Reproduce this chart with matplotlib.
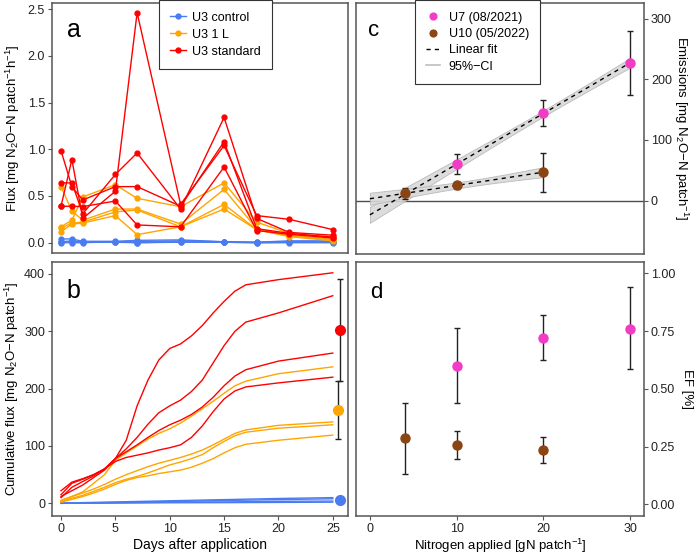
import numpy as np
import matplotlib.pyplot as plt

plt.rcParams['font.family'] = ['Liberation Sans', 'DejaVu Sans']
plt.rcParams['mathtext.fontset'] = 'custom'
plt.rcParams['mathtext.rm'] = 'Liberation Sans'
plt.rcParams['mathtext.it'] = 'Liberation Sans:italic'

# ---- data ----
days = [0, 1, 2, 5, 7, 11, 15, 18, 21, 25]

flux_control = [
    [0.04, 0.04, 0.015, 0.015, 0.025, 0.03, 0.01, 0.005, 0.02, 0.02],
    [0.01, 0.02, 0.01, 0.01, 0.01, 0.02, 0.01, 0.005, 0.01, 0.01],
    [0.005, 0.005, 0.005, 0.005, 0.0, 0.01, 0.005, 0.0, 0.005, 0.005],
    [0.0, 0.0, 0.0, 0.01, 0.0, 0.005, 0.005, 0.0, 0.0, 0.0],
]
flux_1L = [
    [0.17, 0.24, 0.49, 0.62, 0.475, 0.385, 0.64, 0.22, 0.10, 0.05],
    [0.60, 0.34, 0.24, 0.36, 0.36, 0.20, 0.57, 0.15, 0.08, 0.035],
    [0.155, 0.21, 0.22, 0.33, 0.35, 0.17, 0.41, 0.14, 0.07, 0.03],
    [0.115, 0.20, 0.21, 0.29, 0.086, 0.17, 0.36, 0.14, 0.065, 0.02],
]
flux_std = [
    [0.39, 0.89, 0.26, 0.55, 2.46, 0.41, 1.04, 0.29, 0.25, 0.14],
    [0.64, 0.64, 0.31, 0.73, 0.96, 0.36, 1.34, 0.26, 0.11, 0.08],
    [0.985, 0.60, 0.457, 0.60, 0.60, 0.39, 1.08, 0.15, 0.10, 0.06],
    [0.39, 0.39, 0.386, 0.446, 0.19, 0.17, 0.81, 0.13, 0.09, 0.05],
]

cum_days = [0, 1, 2, 3, 4, 5, 6, 7, 8, 9, 10, 11, 12, 13, 14, 15, 16, 17, 20, 25]
cum_std = [
    [15, 35, 42, 50, 60, 78, 110, 170, 215, 250, 270, 278, 292, 310, 332, 352, 370, 381, 390, 402],
    [10, 28, 38, 48, 60, 78, 95, 115, 138, 158, 170, 180, 195, 215, 245, 275, 300, 316, 332, 362],
    [12, 22, 32, 45, 58, 78, 90, 102, 115, 127, 137, 145, 155, 168, 185, 205, 222, 233, 248, 262],
    [22, 37, 43, 50, 60, 73, 80, 84, 88, 93, 97, 102, 115, 135, 160, 182, 196, 203, 210, 220],
]
cum_1L = [
    [5, 12, 20, 35, 50, 75, 88, 100, 112, 122, 130, 140, 152, 165, 178, 192, 205, 213, 226, 238],
    [5, 12, 18, 25, 33, 42, 50, 57, 64, 70, 75, 80, 86, 93, 102, 112, 122, 128, 136, 142],
    [3, 9, 14, 21, 28, 36, 42, 47, 53, 60, 67, 72, 78, 85, 97, 108, 118, 124, 131, 137],
    [2, 7, 12, 18, 25, 33, 40, 45, 48, 52, 55, 58, 63, 70, 78, 88, 97, 103, 110, 119],
]
cum_ctrl_days = [0, 5, 10, 15, 20, 25]
cum_control = [
    [0.5, 2.5, 4.5, 6.5, 8.5, 10],
    [0, 1.5, 3, 5, 6.5, 8],
    [0, 1, 2, 2.5, 3.5, 4],
    [0, 0.5, 1, 1.2, 1.6, 2],
]
# totals (mean, lower, upper) at the right side of panel b: standard, 1 L, control
tot_x = [25.65, 25.5, 25.65]
tot_mean = [302, 163, 6]
tot_low = [213, 112, 3]
tot_high = [391, 213, 9]

# panels c and d
u7_n = [10, 20, 30]
u7_emis = [60, 144, 227]
u7_emis_lo = [44, 123, 174]
u7_emis_hi = [77, 166, 280]
u7_ef = [0.60, 0.72, 0.76]
u7_ef_lo = [0.44, 0.625, 0.586]
u7_ef_hi = [0.764, 0.82, 0.94]

u10_n = [4, 10, 20]
u10_emis = [12, 25, 47]
u10_emis_lo = [2, 20, 15]
u10_emis_hi = [21, 30, 78]
u10_ef = [0.287, 0.256, 0.236]
u10_ef_lo = [0.13, 0.195, 0.18]
u10_ef_hi = [0.44, 0.318, 0.294]

c_blue = '#4A7BF0'
c_orange = '#FFA500'
c_red = '#FF0000'
c_pink = '#F23CC6'
c_brown = '#8B4513'
border = '#555555'

fig = plt.figure(figsize=(6.96, 5.56), dpi=100)
ax_a = fig.add_axes([0.0747, 0.545, 0.4253, 0.45])
ax_b = fig.add_axes([0.0747, 0.072, 0.4253, 0.457])
ax_c = fig.add_axes([0.5115, 0.543, 0.4138, 0.452])
ax_d = fig.add_axes([0.5115, 0.072, 0.4138, 0.457])

for ax in (ax_a, ax_b, ax_c, ax_d):
    for s in ax.spines.values():
        s.set_color(border)
        s.set_linewidth(1.1)
    ax.tick_params(colors='#333333', labelcolor='#222222', labelsize=9,
                   length=3, width=0.8, color=border, pad=2)

# ---- a ----
for grp, col, lab in ((flux_control, c_blue, 'U3 control'),
                      (flux_1L, c_orange, 'U3 1 L'),
                      (flux_std, c_red, 'U3 standard')):
    for i, ser in enumerate(grp):
        ax_a.plot(days, ser, '-o', color=col, lw=1, ms=3.5,
                  label=lab if i == 0 else None)
ax_a.set_xlim(-0.83, 26.4)
ax_a.set_ylim(-0.11, 2.567)
ax_a.set_yticks([0, 0.5, 1.0, 1.5, 2.0, 2.5])
ax_a.set_yticklabels(['0.0', '0.5', '1.0', '1.5', '2.0', '2.5'])
ax_a.set_xticks([])
ax_a.set_ylabel('Flux [mg N$_2$O\u2212N patch$^{-1}$h$^{-1}$]', fontsize=9.5, labelpad=4)
ax_a.text(0.05, 0.864, 'a', transform=ax_a.transAxes, fontsize=18)
leg = ax_a.legend(loc='upper left', bbox_to_anchor=(0.36, 1.01), fontsize=9,
                  fancybox=False, edgecolor='#333333', framealpha=1,
                  handlelength=1.3, handletextpad=0.5, borderpad=0.9,
                  labelspacing=0.4, borderaxespad=0)
leg.get_frame().set_linewidth(0.8)

# ---- b ----
for grp, col in ((cum_control, c_blue), (cum_1L, c_orange), (cum_std, c_red)):
    xs = cum_ctrl_days if grp is cum_control else cum_days
    for ser in grp:
        ax_b.plot(xs, ser, '-', color=col, lw=1)
for x, m, lo, hi, col in zip(tot_x, tot_mean, tot_low, tot_high,
                             (c_red, c_orange, c_blue)):
    ax_b.errorbar(x, m, yerr=[[m - lo], [hi - m]], fmt='none', ecolor='#222222',
                  elinewidth=1, capsize=2.5, capthick=1, zorder=3)
    ax_b.plot(x, m, 'o', color=col, ms=7, zorder=4)
ax_b.set_xlim(-0.83, 26.4)
ax_b.set_ylim(-22, 421)
ax_b.set_xticks([0, 5, 10, 15, 20, 25])
ax_b.set_yticks([0, 100, 200, 300, 400])
ax_b.set_xlabel('Days after application', fontsize=10, labelpad=2)
ax_b.set_ylabel('Cumulative flux [mg N$_2$O\u2212N patch$^{-1}$]', fontsize=9.5, labelpad=2)
ax_b.text(0.05, 0.857, 'b', transform=ax_b.transAxes, fontsize=18)


# ---- c ----
def fit_band(xn, yv, x_end, hw0):
    xn = np.asarray(xn, float)
    k, d = np.polyfit(xn, yv, 1)
    xx = np.linspace(0, x_end, 100)
    sxx = np.sum((xn - xn.mean()) ** 2)
    half = hw0 * np.sqrt(1 + len(xn) * (xx - xn.mean()) ** 2 / sxx)
    return xx, k * xx + d, half


ax_c.axhline(0, color='#4D4D4D', lw=1, zorder=1)
for xn, yv, xe in ((u7_n, u7_emis, 30), (u10_n, u10_emis, 20)):
    xx, yy, half = fit_band(xn, yv, xe, 5.0)
    ax_c.fill_between(xx, yy - half, yy + half, color='#D9D9D9', alpha=0.9,
                      edgecolor='#B5B5B5', lw=0.6, zorder=2)
    ax_c.plot(xx, yy, '--', color='black', lw=1, dashes=(3, 3), zorder=3)
ax_c.plot([], [], color='#BEBEBE', lw=1.2, label='95%\u2212CI')
for xn, yv, lo, hi, col, lab in ((u7_n, u7_emis, u7_emis_lo, u7_emis_hi, c_pink, 'U7 (08/2021)'),
                                 (u10_n, u10_emis, u10_emis_lo, u10_emis_hi, c_brown, 'U10 (05/2022)')):
    yv = np.asarray(yv)
    ax_c.errorbar(xn, yv, yerr=[yv - lo, np.asarray(hi) - yv], fmt='none',
                  ecolor='#222222', elinewidth=1, capsize=2, capthick=1, zorder=4)
    ax_c.plot(xn, yv, 'o', color=col, ms=6.5, zorder=5, label=lab)
ax_c.set_xlim(-1.6, 31.6)
ax_c.set_ylim(-88, 326)
ax_c.set_xticks([])
ax_c.set_yticks([0, 100, 200, 300])
ax_c.yaxis.tick_right()
ax_c.yaxis.set_label_position('right')
ax_c.set_ylabel('Emissions [mg N$_2$O\u2212N patch$^{-1}$]', fontsize=9.5,
                rotation=270, labelpad=13)
ax_c.text(0.042, 0.866, 'c', transform=ax_c.transAxes, fontsize=16)
h, l = ax_c.get_legend_handles_labels()
h_fit = plt.Line2D([], [], color='black', ls='--', lw=1, dashes=(3, 3))
handles = [h[1], h[2], h_fit, h[0]]
labels = [l[1], l[2], 'Linear fit', l[0]]
leg = ax_c.legend(handles, labels, loc='upper left', bbox_to_anchor=(0.205, 1.01),
                  fontsize=9, fancybox=False, edgecolor='#333333', framealpha=1,
                  handlelength=1.1, handletextpad=0.7, borderpad=0.9,
                  labelspacing=0.35, markerscale=0.75, borderaxespad=0)
leg.get_frame().set_linewidth(0.8)

# ---- d ----
for xn, yv, lo, hi, col in ((u7_n, u7_ef, u7_ef_lo, u7_ef_hi, c_pink),
                            (u10_n, u10_ef, u10_ef_lo, u10_ef_hi, c_brown)):
    yv = np.asarray(yv)
    ax_d.errorbar(xn, yv, yerr=[yv - lo, np.asarray(hi) - yv], fmt='none',
                  ecolor='#222222', elinewidth=1, capsize=2, capthick=1, zorder=3)
    ax_d.plot(xn, yv, 'o', color=col, ms=6.5, zorder=4)
ax_d.set_xlim(-1.6, 31.6)
ax_d.set_ylim(-0.05, 1.05)
ax_d.set_xticks([0, 10, 20, 30])
ax_d.set_yticks([0, 0.25, 0.5, 0.75, 1.0])
ax_d.set_yticklabels(['0.00', '0.25', '0.50', '0.75', '1.00'])
ax_d.yaxis.tick_right()
ax_d.yaxis.set_label_position('right')
ax_d.set_ylabel('EF [%]', fontsize=9.5, rotation=270, labelpad=13)
ax_d.set_xlabel('Nitrogen applied [gN patch$^{-1}$]', fontsize=9.5, labelpad=1)
ax_d.text(0.049, 0.857, 'd', transform=ax_d.transAxes, fontsize=16)

fig.savefig('out.png', dpi=100)
